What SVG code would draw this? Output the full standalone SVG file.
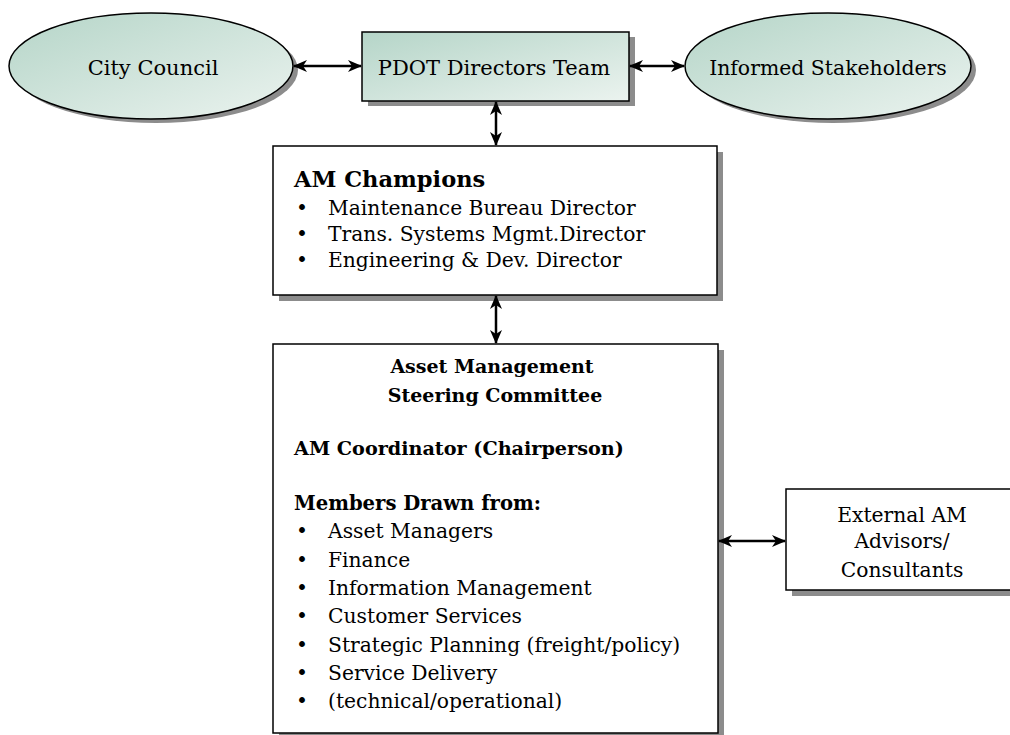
<svg xmlns="http://www.w3.org/2000/svg" width="1010" height="735" viewBox="0 0 1010 735">
<defs>
<linearGradient id="g" x1="0" y1="0" x2="1" y2="1">
<stop offset="0" stop-color="#b5d5c8"/>
<stop offset="1" stop-color="#ebf3ef"/>
</linearGradient>
<marker id="ah" viewBox="0 0 14 12" refX="13" refY="6" markerWidth="14" markerHeight="12" markerUnits="userSpaceOnUse" orient="auto-start-reverse">
<path d="M0,0 L14,6 L0,12 L4,6 z" fill="#000"/>
</marker>
<style>
.t{font-family:"DejaVu Serif","Liberation Serif",serif;font-size:20.3px;fill:#000}
.top{font-size:21px}
.b{font-weight:bold;font-size:19.6px}
.m{text-anchor:middle}
.box{fill:#fff;stroke:#000;stroke-width:1.5}
.gbox{fill:url(#g);stroke:#000;stroke-width:1.5}
.sh{fill:#8c8c8c}
.c{stroke:#000;stroke-width:2.5;fill:none;marker-start:url(#ah);marker-end:url(#ah)}
</style>
</defs>
<g id="city-council">
<ellipse class="sh" cx="156" cy="70" rx="142" ry="53"/>
<ellipse class="gbox" cx="151" cy="66" rx="142" ry="53"/>
<text class="t top m" x="153" y="75">City Council</text>
</g>
<g id="pdot-directors">
<rect class="sh" x="368" y="37" width="267" height="69"/>
<rect class="gbox" x="362" y="32" width="267" height="69"/>
<text class="t top m" x="494" y="75">PDOT Directors Team</text>
</g>
<g id="informed-stakeholders">
<ellipse class="sh" cx="833" cy="70" rx="143" ry="53"/>
<ellipse class="gbox" cx="828" cy="66" rx="143" ry="53"/>
<text class="t top m" x="828" y="75" style="font-size:20.4px">Informed Stakeholders</text>
</g>
<g id="am-champions">
<rect class="sh" x="279" y="152" width="444" height="149"/>
<rect class="box" x="273" y="146" width="444" height="149"/>
<text class="t b" x="294" y="187" style="font-size:22.5px">AM Champions</text>
<text class="t" x="296" y="215">•</text><text class="t" x="328" y="215">Maintenance Bureau Director</text>
<text class="t" x="296" y="241">•</text><text class="t" x="328" y="241">Trans. Systems Mgmt.Director</text>
<text class="t" x="296" y="267">•</text><text class="t" x="328" y="267">Engineering &amp; Dev. Director</text>
</g>
<g id="steering-committee">
<rect class="sh" x="279" y="350" width="445" height="400"/>
<rect class="box" x="273" y="344" width="445" height="389"/>
<text class="t b m" x="492" y="373" style="font-size:19px">Asset Management</text>
<text class="t b m" x="495" y="402" style="font-size:19px">Steering Committee</text>
<text class="t b" x="294" y="455" style="font-size:19.2px">AM Coordinator (Chairperson)</text>
<text class="t b" x="294" y="510">Members Drawn from:</text>
<text class="t" x="296" y="538">•</text><text class="t" x="328" y="538">Asset Managers</text>
<text class="t" x="296" y="567">•</text><text class="t" x="328" y="567">Finance</text>
<text class="t" x="296" y="595">•</text><text class="t" x="328" y="595">Information Management</text>
<text class="t" x="296" y="623">•</text><text class="t" x="328" y="623">Customer Services</text>
<text class="t" x="296" y="652">•</text><text class="t" x="328" y="652">Strategic Planning (freight/policy)</text>
<text class="t" x="296" y="680">•</text><text class="t" x="328" y="680">Service Delivery</text>
<text class="t" x="296" y="708">•</text><text class="t" x="328" y="708">(technical/operational)</text>
</g>
<g id="external-advisors">
<rect class="sh" x="792" y="495" width="232" height="101"/>
<rect class="box" x="786" y="489" width="232" height="101"/>
<text class="t m" x="902" y="522">External AM</text>
<text class="t m" x="902" y="548">Advisors/</text>
<text class="t m" x="902" y="577">Consultants</text>
</g>
<g id="connectors">
<line class="c" x1="294" y1="66" x2="361" y2="66"/>
<line class="c" x1="630" y1="66" x2="684" y2="66"/>
<line class="c" x1="496" y1="102" x2="496" y2="145"/>
<line class="c" x1="496" y1="296" x2="496" y2="343"/>
<line class="c" x1="719" y1="541" x2="785" y2="541"/>
</g>
</svg>
